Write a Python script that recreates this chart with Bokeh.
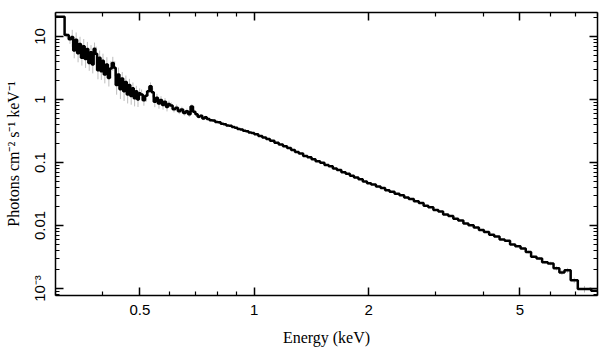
import math
from bokeh.plotting import figure
from bokeh.models import FixedTicker, LogAxis, Range1d, ColumnDataSource
from bokeh.embed import file_html
from bokeh.resources import INLINE

# ---- data: bin edges (keV), flux (photons cm^-2 s^-1 keV^-1), relative errors ----
edges_a = [0.290, 0.317, 0.325, 0.330,
           0.334, 0.338, 0.342, 0.346, 0.350, 0.354, 0.358, 0.362, 0.366, 0.370,
           0.374, 0.378, 0.382, 0.386, 0.390, 0.394, 0.398, 0.402,
           0.407, 0.412, 0.417, 0.422, 0.427, 0.432, 0.437, 0.442, 0.447, 0.452,
           0.457, 0.462, 0.467, 0.472, 0.477, 0.482, 0.487, 0.492, 0.497, 0.502]
vals_a = [20.5, 10.5, 9.0,
          9.8, 6.0, 8.9, 5.4, 7.6, 4.6, 7.0, 4.4, 6.3, 3.8, 5.6, 3.6, 6.4, 5.3,
          2.9, 4.6, 2.8, 4.1,
          2.5, 3.6, 2.2, 3.1, 3.8, 3.2, 1.7, 2.5, 1.45, 2.15, 1.35, 1.9, 1.2,
          1.7, 1.13, 1.5, 1.05, 1.35, 1.0, 1.25]
err_a = [0.05, 0.08, 0.15,
         0.3, 0.25, 0.3, 0.28, 0.3, 0.25, 0.3, 0.28, 0.3, 0.25, 0.3, 0.28, 0.25,
         0.3, 0.28, 0.3, 0.27, 0.3,
         0.28, 0.3, 0.27, 0.3, 0.25, 0.27, 0.3, 0.28, 0.3, 0.27, 0.3, 0.26, 0.28,
         0.25, 0.27, 0.24, 0.26, 0.22, 0.24, 0.2]

edges_b = [0.509, 0.516, 0.523, 0.530, 0.537, 0.544, 0.551, 0.558, 0.565, 0.572,
           0.579, 0.586, 0.593, 0.600,
           0.610, 0.620, 0.630, 0.640, 0.650, 0.660, 0.670, 0.680, 0.690, 0.700,
           0.710, 0.720, 0.730, 0.740, 0.750,
           0.763, 0.776, 0.789, 0.802, 0.816, 0.830, 0.844, 0.858, 0.873, 0.888,
           0.903, 0.918, 0.934, 0.950, 0.966, 0.983, 1.000]
vals_b = [1.2, 0.97, 1.15, 1.35, 1.62, 1.3, 0.92, 1.06, 0.86, 0.98, 0.82, 0.92,
          0.76, 0.85,
          0.80, 0.70, 0.74, 0.65, 0.69, 0.61, 0.65, 0.58, 0.77, 0.64, 0.58, 0.53,
          0.55, 0.50, 0.52,
          0.49, 0.468, 0.462, 0.440, 0.433, 0.412, 0.406, 0.386, 0.381, 0.364,
          0.357, 0.341, 0.334, 0.320, 0.313, 0.300, 0.294]
err_b = [0.2, 0.18, 0.2, 0.17, 0.15, 0.17, 0.18, 0.16, 0.17, 0.15, 0.16, 0.14,
         0.15, 0.13,
         0.12, 0.11, 0.12, 0.1, 0.11, 0.09, 0.1, 0.09, 0.09, 0.08, 0.08, 0.07,
         0.07, 0.06, 0.06,
         0.05, 0.05, 0.05, 0.04, 0.04, 0.04, 0.04, 0.035, 0.035, 0.03, 0.03, 0.03,
         0.03, 0.03, 0.03, 0.03, 0.03]

edges_c = [1.025, 1.050, 1.075, 1.100, 1.130, 1.160, 1.190, 1.220, 1.250, 1.280,
           1.310, 1.345, 1.380, 1.415, 1.450, 1.490, 1.530, 1.570, 1.610, 1.650,
           1.695, 1.740, 1.785, 1.830, 1.880, 1.930, 1.980, 2.030]
vals_c = [0.280, 0.263, 0.248, 0.235, 0.221, 0.206, 0.192, 0.181, 0.169, 0.158,
          0.147, 0.139, 0.127, 0.121, 0.112, 0.105, 0.099, 0.091, 0.087, 0.080,
          0.076, 0.070, 0.0665, 0.0615, 0.0575, 0.054, 0.050, 0.047]

edges_d = [2.090, 2.150, 2.210, 2.270, 2.340, 2.410, 2.480, 2.550, 2.630, 2.710,
           2.790, 2.870, 2.960, 3.050, 3.140, 3.240, 3.340, 3.440, 3.550, 3.660,
           3.780, 3.900, 4.020, 4.150, 4.280, 4.420, 4.560, 4.710, 4.860, 5.020]
vals_d = [0.0446, 0.0415, 0.0392, 0.0364, 0.0343, 0.0318, 0.0302, 0.0279, 0.0264,
          0.0243, 0.0228, 0.0206, 0.0194, 0.0176, 0.0166, 0.0150, 0.0141, 0.0128,
          0.0120, 0.0108, 0.0101, 0.0093, 0.0085, 0.0079, 0.0071, 0.0067, 0.0060,
          0.0057, 0.0050, 0.0047]

edges_e = [5.180, 5.350, 5.530, 5.720, 5.920, 6.130, 6.350, 6.550, 6.800, 7.100,
           7.700, 8.300]
vals_e = [0.0043, 0.0038, 0.0032, 0.0030, 0.0026, 0.0025, 0.0021, 0.0018, 0.00195,
          0.00135, 0.00098, 0.00092]
err_e = [0.04, 0.05, 0.05, 0.06, 0.06, 0.07, 0.08, 0.09, 0.09, 0.1, 0.12, 0.14]

x_ticks = [0.5, 1, 2, 5]
x_minor = [0.3, 0.4, 0.6, 0.7, 0.8, 0.9, 3, 4, 6, 7, 8]
y_ticks = [0.001, 0.01, 0.1, 1, 10]
y_labels = ["10⁻³", "0.01", "0.1", "1", "10"]
y_minor = [m * d for d in (0.0001, 0.001, 0.01, 0.1, 1, 10) for m in range(2, 10)]

# ---- assemble ----
edges = edges_a + edges_b + edges_c + edges_d + edges_e
vals = vals_a + vals_b + vals_c + vals_d + vals_e
errs = err_a + err_b + [0.0] * (len(vals_c) + len(vals_d)) + err_e

centers = [math.sqrt(edges[i] * edges[i + 1]) for i in range(len(vals))]
eb = dict(x=[], lo=[], hi=[])
for c, v, e in zip(centers, vals, errs):
    if e > 0:
        eb["x"].append(c)
        eb["lo"].append(v * (1 - e))
        eb["hi"].append(v * (1 + e))

p = figure(width=609, height=357, x_axis_type="log", y_axis_type="log",
           x_range=Range1d(0.3, 8.0), y_range=Range1d(7.74e-4, 24.0),
           output_backend="svg", toolbar_location=None,
           min_border_left=55, min_border_right=12, min_border_top=12,
           min_border_bottom=62)
p.xgrid.visible = False
p.ygrid.visible = False
p.outline_line_color = None
p.background_fill_color = "white"
p.border_fill_color = "white"

p.segment(x0="x", y0="lo", x1="x", y1="hi", source=ColumnDataSource(eb),
          line_color="#bdbdbd", line_width=1)
p.step(x=edges, y=vals + [vals[-1]], mode="after", line_color="black",
       line_width=2.5)

xt = FixedTicker(ticks=x_ticks, minor_ticks=x_minor)
yt = FixedTicker(ticks=y_ticks, minor_ticks=y_minor)

# take the default bottom / left axes BEFORE adding the mirrored ones
xa = p.below[0]
ya = p.left[0]

top = LogAxis()
p.add_layout(top, "above")
right = LogAxis()
p.add_layout(right, "right")

for a, tk in ((xa, xt), (ya, yt), (top, xt), (right, yt)):
    a.ticker = tk
    a.major_tick_in = 8
    a.major_tick_out = 0
    a.minor_tick_in = 4
    a.minor_tick_out = 0
    a.major_tick_line_color = "black"
    a.minor_tick_line_color = "black"
    a.major_tick_line_width = 1.5
    a.minor_tick_line_width = 1.2
    a.axis_line_color = "black"
    a.axis_line_width = 1.5

for a in (xa, ya):
    a.major_label_text_font = "Liberation Sans"
    a.major_label_text_font_size = "15px"
    a.major_label_text_color = "black"
    a.axis_label_text_font = "Liberation Serif"
    a.axis_label_text_font_style = "normal"
    a.axis_label_text_font_size = "16px"
    a.axis_label_text_color = "black"

for a in (top, right):
    a.major_label_text_font_size = "1px"
    a.major_label_text_color = None
    a.major_label_standoff = 0

xa.axis_label = "Energy (keV)"
xa.major_label_overrides = {0.5: "0.5", 1: "1", 2: "2", 5: "5"}
xa.major_label_standoff = 9
xa.axis_label_standoff = 11

ya.axis_label = "Photons cm⁻² s⁻¹ keV⁻¹"
ya.major_label_overrides = {t: s for t, s in zip(y_ticks, y_labels)}
ya.major_label_orientation = "vertical"
ya.major_label_standoff = 7
ya.axis_label_standoff = 7

open("out.html", "w").write(file_html(p, INLINE))
